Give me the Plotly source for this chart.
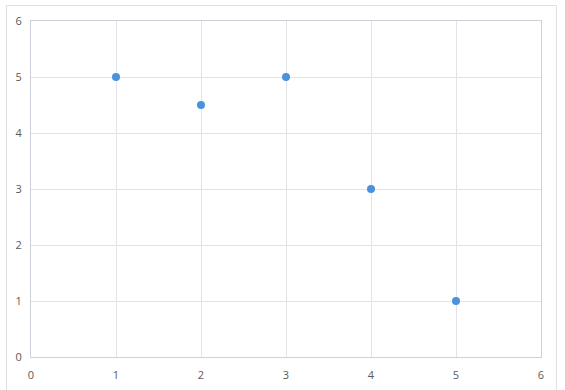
import plotly.graph_objects as go

x_vals = [1, 2, 3, 4, 5]
y_vals = [5, 4.5, 5, 3, 1]
tick_vals = [0, 1, 2, 3, 4, 5, 6]

fig = go.Figure()
fig.add_trace(go.Scatter(
    x=x_vals, y=y_vals, mode="markers",
    marker=dict(size=8, color="#4A93DC"),
    hoverinfo="x+y",
))

axis_common = dict(
    range=[0, 6], tickvals=tick_vals, showgrid=True, gridcolor="#e1e3e8", gridwidth=1,
    zeroline=False, showline=True, linecolor="#cdd0d8", linewidth=1, mirror=True,
    ticks="", tickfont=dict(family="Open Sans, Liberation Sans, sans-serif", size=11, color="#595959"),
    fixedrange=True, automargin=False,
)
fig.update_xaxes(**axis_common, ticklabelstandoff=8)
fig.update_yaxes(**axis_common, ticklabelstandoff=6)

fig.add_shape(type="rect", xref="paper", yref="paper",
              x0=-0.048, x1=1.0304, y0=-0.2, y1=1.046,
              line=dict(color="#dcdfe4", width=1), fillcolor="rgba(0,0,0,0)", layer="below")

fig.update_layout(
    width=565, height=390,
    margin=dict(l=31, r=24, t=21, b=33),
    paper_bgcolor="white", plot_bgcolor="white",
    showlegend=False,
)
fig.write_html("out.html")
